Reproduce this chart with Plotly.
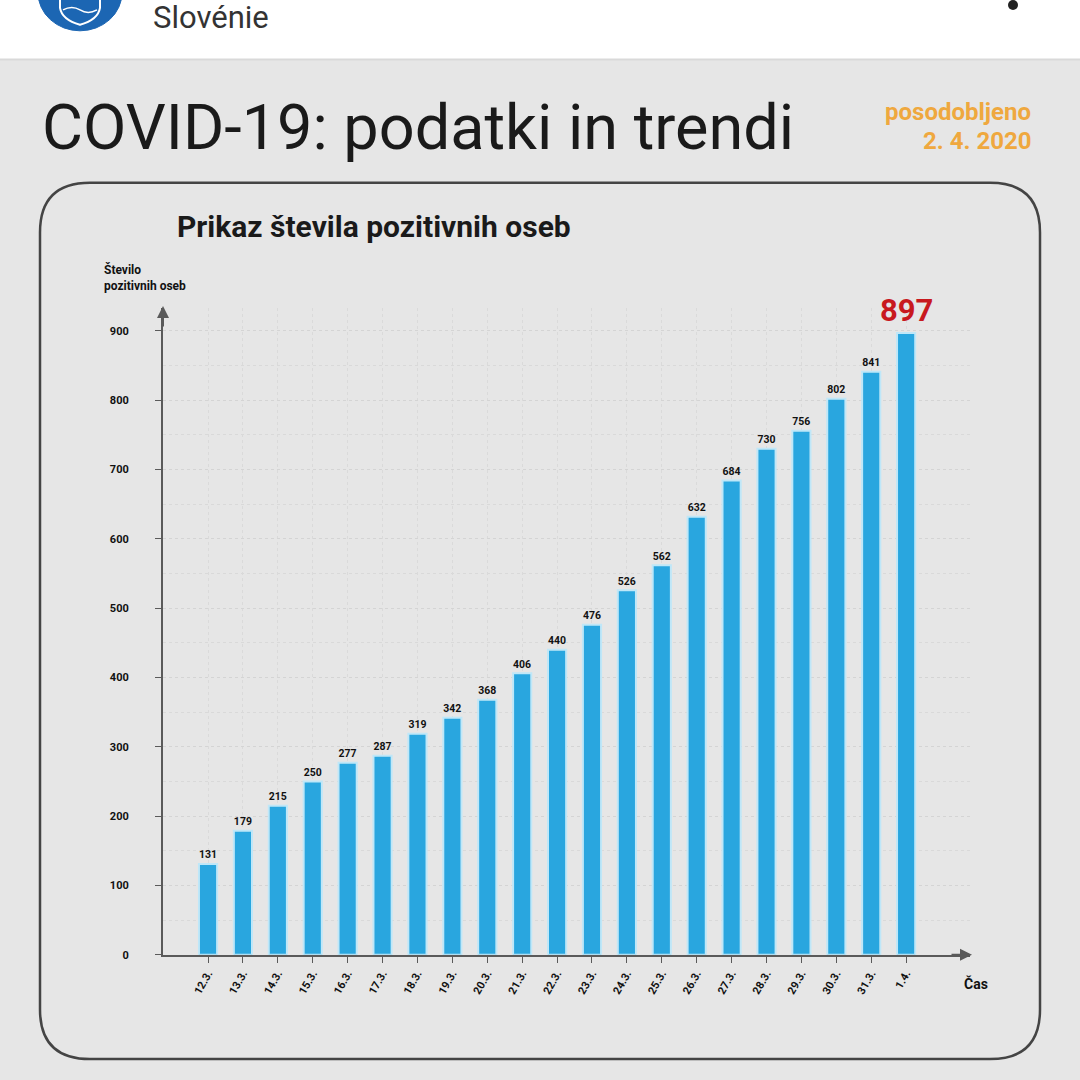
import plotly.graph_objects as go

# data
dates = ['12.3.', '13.3.', '14.3.', '15.3.', '16.3.', '17.3.', '18.3.', '19.3.', '20.3.', '21.3.', '22.3.',
         '23.3.', '24.3.', '25.3.', '26.3.', '27.3.', '28.3.', '29.3.', '30.3.', '31.3.', '1.4.']
positives = [131, 179, 215, 250, 277, 287, 319, 342, 368, 406, 440,
             476, 526, 562, 632, 684, 730, 756, 802, 841, 897]
y_ticks = [0, 100, 200, 300, 400, 500, 600, 700, 800, 900]

W = H = 1080
BG = '#e6e6e6'
BLUE = '#29a6df'
AXIS = '#5a5a5a'
ORANGE = '#efa83e'


def px(x):
    return x / W


def py(y):
    return 1 - y / H


# pixel layout of the plot area
X0, X1 = 163, 970
Y0, Y1 = 961, 310

fig = go.Figure()

xs = list(range(len(dates)))
last = len(positives) - 1
fig.add_trace(go.Bar(
    x=xs, y=positives, width=0.52,
    marker=dict(color=BLUE, line=dict(color='#bfe7f8', width=2)),
    text=[str(v) if i != last else '' for i, v in enumerate(positives)],
    textposition='outside', cliponaxis=False,
    textfont=dict(family='Roboto', size=12, color='#111', weight='bold'),
    hoverinfo='skip', showlegend=False,
))

# highlighted last value
fig.add_annotation(x=last, y=positives[last], yshift=22, text=str(positives[last]),
                   showarrow=False, font=dict(family='Roboto', size=31, color='#c8191e', weight='bold'))

fig.update_xaxes(
    domain=[px(X0), px(X1)], range=[-1.29, 21.83],
    tickvals=xs, ticktext=dates, tickangle=-60,
    tickfont=dict(family='Roboto', size=11, color='#111', weight='bold'),
    ticks='outside', ticklen=6, tickcolor=AXIS,
    showline=True, linecolor=AXIS, linewidth=2,
    showgrid=True, gridcolor='#dadada', griddash='dot', gridwidth=1,
    zeroline=False, fixedrange=True,
)
fig.update_yaxes(
    domain=[py(Y0), py(Y1)], range=[0, 933],
    tickvals=y_ticks, ticks='outside', ticklen=6, tickcolor=AXIS,
    tickfont=dict(family='Roboto', size=11, color='#111', weight='bold'),
    ticklabelstandoff=24,
    showline=True, linecolor=AXIS, linewidth=2,
    showgrid=True, gridcolor='#d4d4d4', griddash='dot', gridwidth=1,
    minor=dict(dtick=50, showgrid=True, gridcolor='#d9d9d9', griddash='dot'),
    zeroline=False, fixedrange=True,
)

# card border (rounded rectangle) and white header
L, T, R, B, r = 40, 184, 1040, 1066, 50
card = (f'M {px(L + r)} {py(T)} L {px(R - r)} {py(T)} Q {px(R)} {py(T)} {px(R)} {py(T + r)} '
        f'L {px(R)} {py(B - r)} Q {px(R)} {py(B)} {px(R - r)} {py(B)} '
        f'L {px(L + r)} {py(B)} Q {px(L)} {py(B)} {px(L)} {py(B - r)} '
        f'L {px(L)} {py(T + r)} Q {px(L)} {py(T)} {px(L + r)} {py(T)} Z')
shapes = [
    dict(type='rect', xref='paper', yref='paper', x0=0, x1=1, y0=py(60), y1=1,
         fillcolor='white', line=dict(width=0), layer='below'),
    dict(type='line', xref='paper', yref='paper', x0=0, x1=1, y0=py(60), y1=py(60),
         line=dict(color='#d9d9d9', width=2)),
    dict(type='path', xref='paper', yref='paper', path=card, line=dict(color='#444', width=2.5)),
    # logo
    dict(type='circle', xref='paper', yref='paper', x0=px(38), x1=px(122), y0=py(-46), y1=py(31),
         fillcolor='#1c66b3', line=dict(color='#1c66b3', width=1)),
    dict(type='path', xref='paper', yref='paper',
         path=f'M {px(60)} {py(0)} L {px(60)} {py(8)} Q {px(62)} {py(20)} {px(80)} {py(25)} '
              f'Q {px(98)} {py(20)} {px(100)} {py(8)} L {px(100)} {py(0)}',
         line=dict(color='white', width=2)),
    dict(type='path', xref='paper', yref='paper',
         path=f'M {px(63)} {py(10)} Q {px(72)} {py(5)} {px(80)} {py(10)} Q {px(88)} {py(15)} {px(97)} {py(10)}',
         line=dict(color='white', width=1.5)),
    dict(type='circle', xref='paper', yref='paper', x0=px(1008), x1=px(1018), y0=py(10), y1=py(0),
         fillcolor='#222', line=dict(width=0)),
]

annotations = [
    dict(x=px(151), y=py(18), text='Slovénie', xanchor='left', yanchor='middle',
         font=dict(family='Roboto', size=31, color='#333')),
    dict(x=px(40), y=py(128), text='COVID-19: podatki in trendi', xanchor='left', yanchor='middle',
         font=dict(family='Roboto', size=63, color='#1a1a1a')),
    dict(x=px(1033), y=py(113), text='posodobljeno', xanchor='right', yanchor='middle',
         font=dict(family='Roboto', size=24, color=ORANGE, weight='bold')),
    dict(x=px(1033), y=py(142), text='2. 4. 2020', xanchor='right', yanchor='middle',
         font=dict(family='Roboto', size=24, color=ORANGE, weight='bold')),
    dict(x=px(175), y=py(228), text='Prikaz števila pozitivnih oseb', xanchor='left', yanchor='middle',
         font=dict(family='Roboto', size=30, color='#1a1a1a', weight='bold')),
    dict(x=px(102), y=py(279), text='Število<br>pozitivnih oseb', xanchor='left', yanchor='middle',
         align='left', font=dict(family='Roboto', size=12, color='#111', weight='bold')),
    dict(x=px(962), y=py(990), text='Čas', xanchor='left', yanchor='middle',
         font=dict(family='Roboto', size=14, color='#111', weight='bold')),
    # axis arrowheads
    dict(x=px(163), y=py(Y1 - 2), ax=0, ay=22, xref='paper', yref='paper', text='', showarrow=True,
         arrowhead=2, arrowsize=1.2, arrowwidth=2, arrowcolor=AXIS),
    dict(x=px(X1 + 2), y=py(961), ax=-22, ay=0, xref='paper', yref='paper', text='', showarrow=True,
         arrowhead=2, arrowsize=1.2, arrowwidth=2, arrowcolor=AXIS),
]
for a in annotations:
    a.setdefault('xref', 'paper')
    a.setdefault('yref', 'paper')
    a.setdefault('showarrow', False)
    fig.add_annotation(**a)

fig.update_layout(
    width=W, height=H, margin=dict(l=0, r=0, t=0, b=0),
    paper_bgcolor=BG, plot_bgcolor=BG,
    shapes=shapes, bargap=0.5,
)

# drop the browser's default page margin so the figure sits at the window corner
fig.write_html('out.html', config={'displayModeBar': False},
               post_script="document.body.style.margin='0';")
